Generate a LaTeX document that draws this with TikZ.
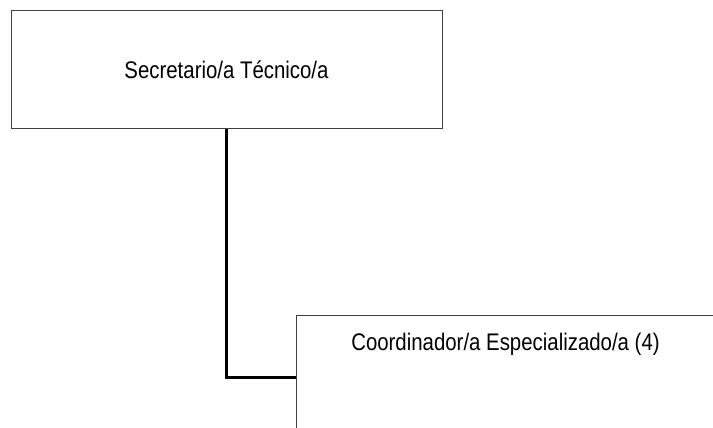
\documentclass[tikz,border=0pt]{standalone}
\usepackage{fontspec}
\setmainfont{Liberation Sans}[FakeStretch=0.85]
\usepackage{tikz}
\usetikzlibrary{
	positioning,
	calc,
}

\begin{document}
\begin{tikzpicture}[
	x=1pt,y=1pt,
	text=black,
	font=\fontsize{24}{28}\selectfont,
	post/.style={draw=black!75,line width=1pt,rectangle,inner sep=0pt},
	link/.style={draw=black,line width=3pt}
	]
	\useasboundingbox (0,0) rectangle (713,428);
	\clip (0,0) rectangle (713,428);
	
	%% line 1
	\node (sec) [post,minimum width=431,minimum height=118] at (226.5,358) {Secretario/a T\'ecnico/a};
	
	%% line 2
	\node (coo) [post,minimum width=418,text height=20,text depth=100,inner ysep=15,
		below right=186pt and 69.5pt of sec.south] {Coordinador/a Especializado/a (4)};
	
	%% connector
	\draw[link] (sec.south) |- ([yshift=-62pt]coo.north west);
	
\end{tikzpicture}
\end{document}
